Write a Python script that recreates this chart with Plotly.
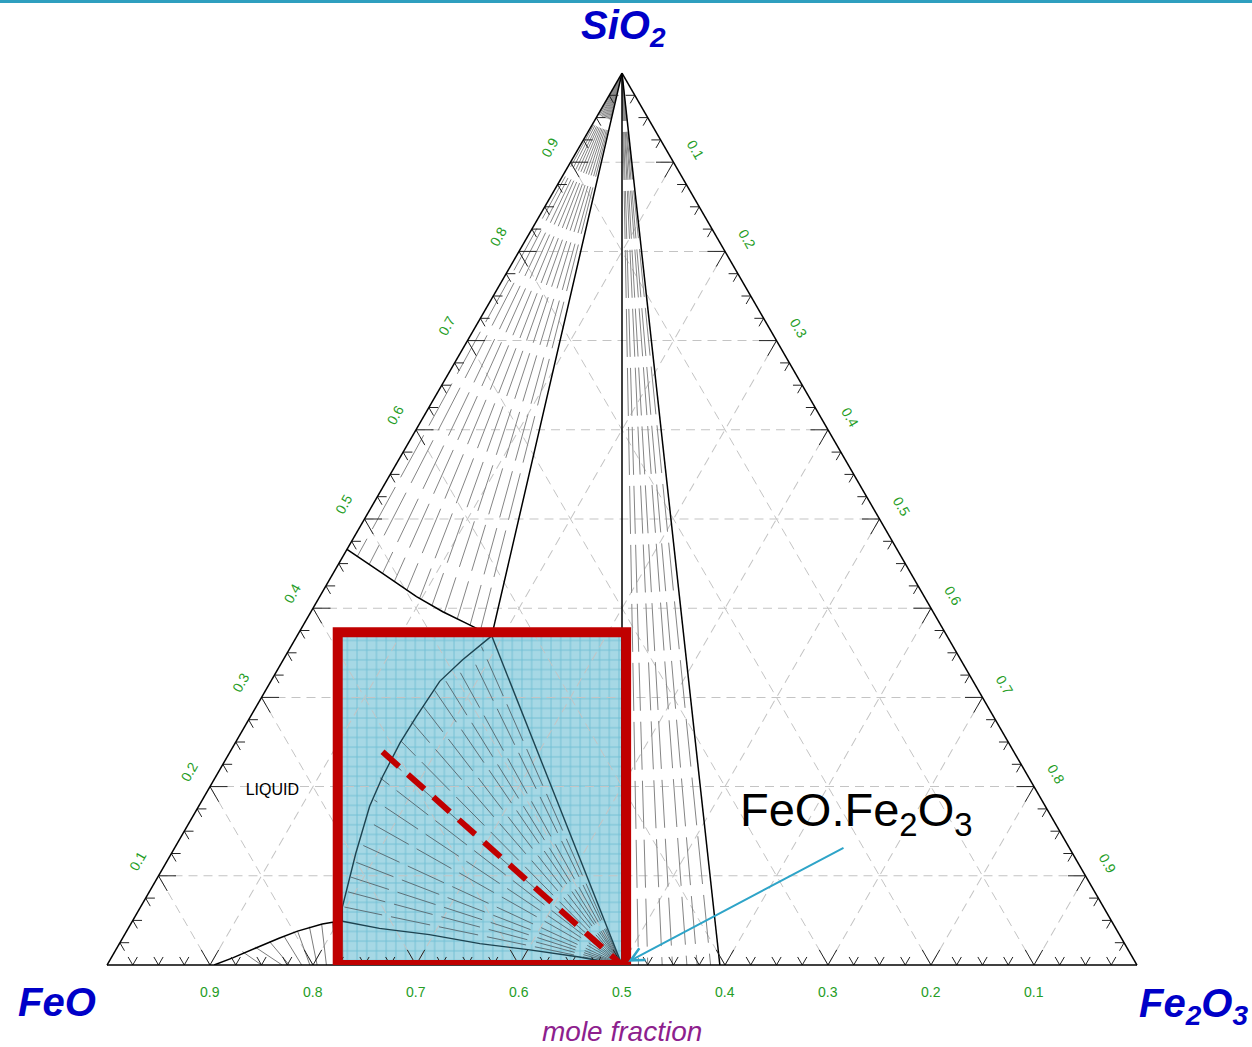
import numpy as np
import plotly.graph_objects as go

# ---------------- composition data: mole fractions (SiO2, FeO, Fe2O3) ----------------
# liquidus bounding the SiO2 + liquid field
silica_liq_sio2 = [0.466, 0.439, 0.413, 0.396, 0.381, 0.369]
silica_liq_feo = [0.534, 0.513, 0.493, 0.476, 0.457, 0.442]
silica_liq_fe2o3 = [0.000, 0.048, 0.094, 0.128, 0.162, 0.189]

# liquid ends of the SiO2 + liquid tie-lines (other end is pure SiO2)
silica_tie_sio2 = [0.458, 0.449, 0.439, 0.430, 0.420, 0.411, 0.403, 0.395, 0.388, 0.381, 0.375]
silica_tie_feo = [0.528, 0.521, 0.513, 0.506, 0.499, 0.491, 0.483, 0.475, 0.466, 0.457, 0.450]
silica_tie_fe2o3 = [0.014, 0.030, 0.048, 0.064, 0.081, 0.098, 0.114, 0.130, 0.146, 0.162, 0.175]

# spinel solid solution on the FeO-Fe2O3 join: FeO fraction of its limits and tie-line ends
spinel_limits_feo = [0.500, 0.405]
spinel_tie_feo = [0.484, 0.475, 0.461, 0.451, 0.437, 0.427, 0.414]

# liquidus of the spinel + liquid field, from the SiO2 corner triangle down to wustite
spinel_liq_sio2 = [0.369, 0.342, 0.318, 0.278, 0.249, 0.211, 0.178, 0.125, 0.065, 0.049]
spinel_liq_feo = [0.442, 0.484, 0.518, 0.561, 0.591, 0.627, 0.656, 0.696, 0.739, 0.747]
spinel_liq_fe2o3 = [0.189, 0.174, 0.164, 0.161, 0.160, 0.162, 0.166, 0.179, 0.196, 0.204]

# liquid ends of the spinel + liquid tie-lines (other end is FeO.Fe2O3)
spinel_fan_sio2 = [0.065, 0.082, 0.099, 0.116, 0.136, 0.161, 0.185, 0.210, 0.230,
                   0.251, 0.273, 0.290, 0.308, 0.321, 0.333, 0.346, 0.357]
spinel_fan_feo = [0.737, 0.725, 0.715, 0.702, 0.687, 0.666, 0.648, 0.630, 0.611,
                  0.589, 0.568, 0.548, 0.528, 0.512, 0.493, 0.473, 0.458]
spinel_fan_fe2o3 = [0.198, 0.193, 0.186, 0.182, 0.177, 0.173, 0.167, 0.160, 0.159,
                    0.160, 0.159, 0.162, 0.164, 0.167, 0.174, 0.181, 0.185]

# lower boundary of the spinel + liquid field (wustite + spinel + liquid edge)
spinel_low_sio2 = [0.049, 0.041, 0.034, 0.024, 0.017, 0.009, 0.000]
spinel_low_feo = [0.747, 0.715, 0.670, 0.626, 0.581, 0.537, 0.500]
spinel_low_fe2o3 = [0.204, 0.244, 0.296, 0.350, 0.402, 0.454, 0.500]

# liquidus of the wustite + liquid field
wus_liq_sio2 = [0.000, 0.008, 0.019, 0.030, 0.038, 0.046, 0.048, 0.049]
wus_liq_feo = [0.896, 0.874, 0.846, 0.818, 0.796, 0.768, 0.757, 0.747]
wus_liq_fe2o3 = [0.104, 0.118, 0.135, 0.152, 0.166, 0.186, 0.195, 0.204]

# wustite + liquid tie-lines: liquid end and wustite FeO fraction
wus_tie_sio2 = [0.015, 0.020, 0.026, 0.032, 0.038, 0.043, 0.045, 0.048, 0.049]
wus_tie_feo = [0.861, 0.846, 0.829, 0.812, 0.796, 0.782, 0.769, 0.757, 0.747]
wus_tie_fe2o3 = [0.124, 0.134, 0.145, 0.156, 0.166, 0.175, 0.186, 0.195, 0.204]
wus_solid_feo = [0.850, 0.830, 0.823, 0.811, 0.803, 0.796, 0.787, 0.778, 0.771]

# highlighted composition window and path
window_feo = [0.776, 0.496]          # FeO fraction of the window sides on the base line
window_sio2 = [0.0, 0.373]           # SiO2 fraction of bottom and top
path_sio2 = [0.239, 0.0]
path_feo = [0.613, 0.500]
path_fe2o3 = [0.148, 0.500]

liquid_label = (0.195, 0.742, 0.063)

tick_labels = ["0.1", "0.2", "0.3", "0.4", "0.5", "0.6", "0.7", "0.8", "0.9"]
tick_values = [0.1, 0.2, 0.3, 0.4, 0.5, 0.6, 0.7, 0.8, 0.9]

# ---------------- page geometry ----------------
W, H = 1252, 1047
ML, MR, MT, MB = 100, 108, 73, 82
plot_w, plot_h = W - ML - MR, H - MT - MB
tri_w = plot_h * 2 / np.sqrt(3)
xpad = (plot_w - tri_w) / 2 / tri_w

FONT = "Liberation Sans, Arial, sans-serif"
GREEN = "#259d25"
BLUE = "#0000c8"
NBSP = "\u00a0"


def to_xy(a, b, c):
    s = a + b + c
    return (c + a / 2) / s, (a / s) * np.sqrt(3) / 2


def px(x, y):
    """page pixel -> paper coordinates"""
    return (x - ML) / plot_w, (H - MB - y) / plot_h


def fan(apex, a_list, b_list, c_list):
    a, b, c = [], [], []
    for ea, eb, ec in zip(a_list, b_list, c_list):
        a += [apex[0], ea, None]
        b += [apex[1], eb, None]
        c += [apex[2], ec, None]
    return a, b, c


fig = go.Figure()

# blue window fill (cartesian overlay sharing the triangle frame)
wx0, wx1 = 1 - window_feo[0], 1 - window_feo[1]
wy0, wy1 = window_sio2[0] * np.sqrt(3) / 2, window_sio2[1] * np.sqrt(3) / 2
fig.add_trace(go.Scatter(
    x=[wx0, wx1, wx1, wx0, wx0], y=[wy0, wy0, wy1, wy1, wy0],
    mode="none", fill="toself", fillcolor="#a6d8e5",
    fillpattern=dict(shape="+", size=9.7, solidity=0.16,
                     fgcolor="#2f9fbd", bgcolor="#a6d8e5"),
    hoverinfo="skip", showlegend=False, xaxis="x", yaxis="y"))

TIE = dict(color="#858585", width=1, dash="48px,11px")
EDGE = dict(color="black", width=1.5)
INNER = dict(color="#1d4350", width=1.4)
SIO2 = (1.0, 0.0, 0.0)
MAG = (0.0, 0.5, 0.5)

# SiO2 + liquid tie-lines
a, b, c = fan(SIO2, silica_tie_sio2, silica_tie_feo, silica_tie_fe2o3)
fig.add_trace(go.Scatterternary(a=a, b=b, c=c, mode="lines", line=TIE, hoverinfo="skip"))

# SiO2 + spinel tie-lines
a, b, c = fan(SIO2, [0.0] * len(spinel_tie_feo), spinel_tie_feo,
              [1 - v for v in spinel_tie_feo])
fig.add_trace(go.Scatterternary(a=a, b=b, c=c, mode="lines", line=TIE, hoverinfo="skip"))

# spinel + liquid tie-lines
a, b, c = fan(MAG, spinel_fan_sio2, spinel_fan_feo, spinel_fan_fe2o3)
fig.add_trace(go.Scatterternary(a=a, b=b, c=c, mode="lines",
                                line=dict(color="#5d7179", width=1, dash="40px,9px"),
                                hoverinfo="skip"))

# wustite + liquid tie-lines
a, b, c = [], [], []
for ta, tb, tc, wf in zip(wus_tie_sio2, wus_tie_feo, wus_tie_fe2o3, wus_solid_feo):
    a += [ta, 0.0, None]
    b += [tb, wf, None]
    c += [tc, 1 - wf, None]
fig.add_trace(go.Scatterternary(a=a, b=b, c=c, mode="lines",
                                line=dict(color="#7c7c7c", width=1), hoverinfo="skip"))

# phase boundaries
fig.add_trace(go.Scatterternary(
    a=silica_liq_sio2 + [1.0], b=silica_liq_feo + [0.0], c=silica_liq_fe2o3 + [0.0],
    mode="lines", line=EDGE, hoverinfo="skip"))
for f in spinel_limits_feo:
    fig.add_trace(go.Scatterternary(a=[1.0, 0.0], b=[0.0, f], c=[0.0, 1 - f],
                                    mode="lines", line=EDGE, hoverinfo="skip"))
fig.add_trace(go.Scatterternary(
    a=[0.0] + spinel_liq_sio2[:1], b=[0.5] + spinel_liq_feo[:1], c=[0.5] + spinel_liq_fe2o3[:1],
    mode="lines", line=INNER, hoverinfo="skip"))
fig.add_trace(go.Scatterternary(a=spinel_liq_sio2, b=spinel_liq_feo, c=spinel_liq_fe2o3,
                                mode="lines", line=INNER, hoverinfo="skip"))
fig.add_trace(go.Scatterternary(a=spinel_low_sio2, b=spinel_low_feo, c=spinel_low_fe2o3,
                                mode="lines", line=INNER, hoverinfo="skip"))
fig.add_trace(go.Scatterternary(a=wus_liq_sio2, b=wus_liq_feo, c=wus_liq_fe2o3,
                                mode="lines", line=EDGE, hoverinfo="skip"))

# arrow-shaped tick marks every 0.025 along the three edges
ta, tb, tc = [], [], []
for v in np.arange(0.025, 0.9999, 0.025):
    major = abs(v * 10 - round(v * 10)) < 1e-6
    L = 0.017 if major else 0.009
    # bottom edge (FeO)
    ta += [L, 0.0, L, None]
    tb += [v, v, v - L, None]
    tc += [1 - v - L, 1 - v, 1 - v, None]
    # left edge (SiO2)
    ta += [v, v, v - L, None]
    tb += [1 - v - L, 1 - v, 1 - v, None]
    tc += [L, 0.0, L, None]
    # right edge (Fe2O3)
    ta += [1 - v, 1 - v, 1 - v - L, None]
    tb += [L, 0.0, L, None]
    tc += [v - L, v, v, None]
fig.add_trace(go.Scatterternary(a=ta, b=tb, c=tc, mode="lines",
                                line=dict(color="#222222", width=1), hoverinfo="skip"))

# dashed path to FeO.Fe2O3
fig.add_trace(go.Scatterternary(a=path_sio2, b=path_feo, c=path_fe2o3, mode="lines",
                                line=dict(color="#c00000", width=6, dash="22px,12px"),
                                hoverinfo="skip"))

fig.add_trace(go.Scatterternary(a=[liquid_label[0]], b=[liquid_label[1]], c=[liquid_label[2]],
                                mode="text", text=["LIQUID"],
                                textfont=dict(family=FONT, size=16, color="black"),
                                hoverinfo="skip"))


def axis_style(angle, ticktext):
    # ternary ticks lean along the grid, so the labels carry a little padding
    # to sit centred on their gridline
    style = dict(
        title=dict(text=""), tickmode="array", tickvals=tick_values, ticktext=ticktext,
        ticks="outside", ticklen=15, tickcolor="rgba(0,0,0,0)",
        tickfont=dict(family=FONT, size=14, color=GREEN),
        showline=True, linecolor="black", linewidth=1.5,
        showgrid=True, gridcolor="#c4c4c4", gridwidth=1, griddash="9px,6px",
    )
    if angle is not None:
        style["tickangle"] = angle
    return style


a_text = [NBSP * 4 + t for t in tick_labels]
b_text = [t + NBSP * 4 for t in tick_labels]
c_text = [NBSP * 5 + t for t in tick_labels]

mx, my = to_xy(*MAG)


def label(x, y, text, size, color, anchor="center"):
    lx, ly = px(x, y)
    return dict(xref="paper", yref="paper", x=lx, y=ly, text=text, showarrow=False,
                font=dict(family=FONT, size=size, color=color),
                xanchor=anchor, yanchor="middle")


annotations = [
    label(623, 28, "<b><i>SiO<sub>2</sub></i></b>", 40, BLUE),
    label(57, 1002, "<b><i>FeO</i></b>", 40, BLUE),
    label(1193, 1006, "<b><i>Fe<sub>2</sub>O<sub>3</sub></i></b>", 40, BLUE),
    label(622, 1031, "<i>mole fraction</i>", 28, "#8e1f8e"),
    label(738, 813, "FeO.Fe<sub>2</sub>O<sub>3</sub>", 47, "black", anchor="left"),
    dict(xref="x", yref="y", x=mx, y=my, ax=223, ay=-118, text="", showarrow=True,
         arrowhead=5, arrowsize=1.3, arrowwidth=2, arrowcolor="#2ea4c8", standoff=7),
]

shapes = [
    dict(type="rect", xref="x", yref="y", x0=wx0, x1=wx1, y0=wy0, y1=wy1,
         line=dict(color="#c00000", width=10), fillcolor="rgba(0,0,0,0)", layer="above"),
    dict(type="line", xref="paper", yref="paper", x0=-ML / plot_w, x1=1 + MR / plot_w,
         y0=1 + (MT - 1.5) / plot_h, y1=1 + (MT - 1.5) / plot_h,
         line=dict(color="#2e9fbf", width=3), layer="above"),
]

fig.update_layout(
    width=W, height=H, margin=dict(l=ML, r=MR, t=MT, b=MB, pad=0),
    paper_bgcolor="white", plot_bgcolor="rgba(0,0,0,0)", showlegend=False,
    ternary=dict(domain=dict(x=[0, 1], y=[0, 1]), sum=1, bgcolor="rgba(0,0,0,0)",
                 aaxis=axis_style(-60, a_text), baxis=axis_style(None, b_text),
                 caxis=axis_style(60, c_text)),
    xaxis=dict(range=[-xpad, 1 + xpad], visible=False, fixedrange=True, domain=[0, 1]),
    yaxis=dict(range=[0, np.sqrt(3) / 2], visible=False, fixedrange=True, domain=[0, 1]),
    annotations=annotations, shapes=shapes,
)

fig.write_html("out.html")
